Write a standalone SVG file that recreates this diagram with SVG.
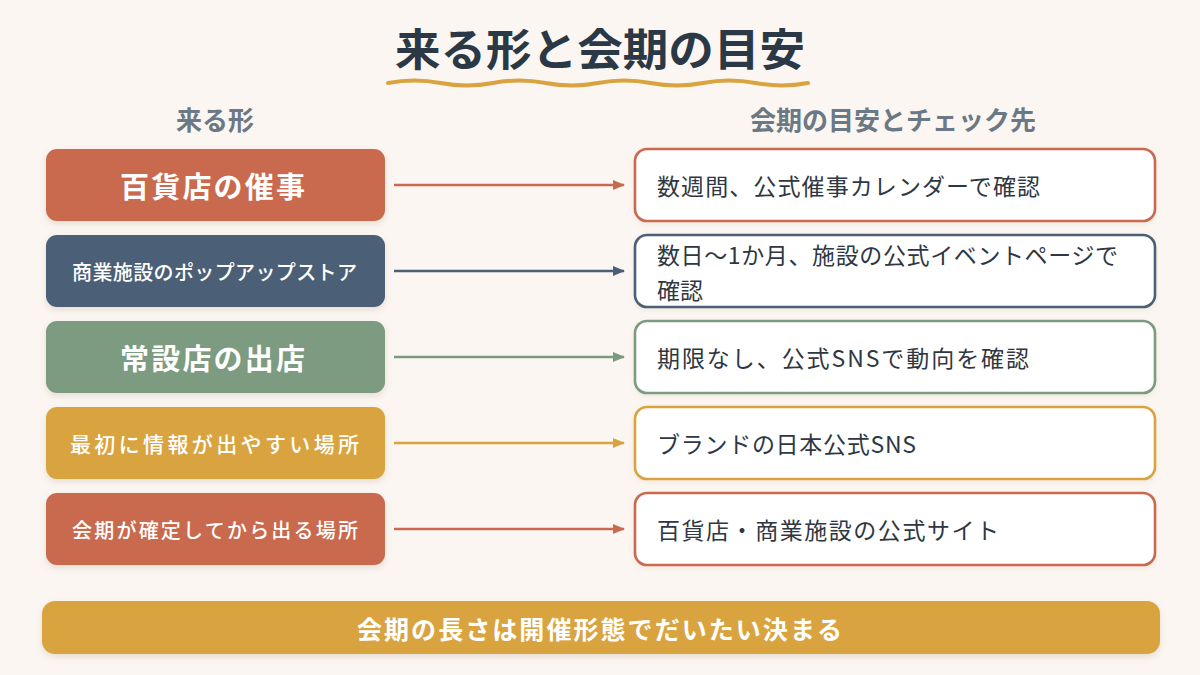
<svg xmlns="http://www.w3.org/2000/svg" width="1200" height="675" viewBox="0 0 1200 675">
<defs>
<filter id="sh" x="-10%" y="-20%" width="120%" height="150%">
<feDropShadow dx="0" dy="3" stdDeviation="3" flood-color="#8a6a50" flood-opacity="0.18"/>
</filter>
<filter id="sh2" x="-10%" y="-20%" width="120%" height="150%">
<feDropShadow dx="0" dy="2" stdDeviation="2.5" flood-color="#8a6a50" flood-opacity="0.10"/>
</filter>
<marker id="mR" viewBox="0 0 12 10" refX="11" refY="5" markerWidth="12" markerHeight="10" markerUnits="userSpaceOnUse" orient="auto"><path d="M0,0 L12,5 L0,10 Z" fill="#C96A50"/></marker>
<marker id="mN" viewBox="0 0 12 10" refX="11" refY="5" markerWidth="12" markerHeight="10" markerUnits="userSpaceOnUse" orient="auto"><path d="M0,0 L12,5 L0,10 Z" fill="#4B5F76"/></marker>
<marker id="mG" viewBox="0 0 12 10" refX="11" refY="5" markerWidth="12" markerHeight="10" markerUnits="userSpaceOnUse" orient="auto"><path d="M0,0 L12,5 L0,10 Z" fill="#7B9B80"/></marker>
<marker id="mY" viewBox="0 0 12 10" refX="11" refY="5" markerWidth="12" markerHeight="10" markerUnits="userSpaceOnUse" orient="auto"><path d="M0,0 L12,5 L0,10 Z" fill="#D9A440"/></marker>
</defs>
<style>
text{font-family:"Noto Sans CJK JP","Noto Sans",sans-serif;}
.title{font-size:44px;font-weight:700;fill:#2B3846;}
.hdr{font-size:26px;font-weight:700;fill:#6B7886;}
.lb{fill-opacity:1;filter:url(#sh);}
.lt{fill:#ffffff;dominant-baseline:central;text-anchor:start;}
.big{font-size:29px;font-weight:700;}
.sm{font-size:20px;font-weight:500;}
.rb{fill:#ffffff;stroke-width:2.6;filter:url(#sh2);}
.rt{font-size:23px;fill:#2E3742;dominant-baseline:central;}
.ar{stroke-width:2.5;fill:none;}
.red{fill:#C96A50;}.navy{fill:#4B5F76;}.green{fill:#7B9B80;}.gold{fill:#D9A440;}
</style>
<rect width="1200" height="675" fill="#FBF6F1"/>

<g id="title">
<text class="title" x="395" y="66" textLength="410" lengthAdjust="spacingAndGlyphs">来る形と会期の目安</text>
<path d="M388,83 q26.25,-5 52.5,0 t52.5,0 t52.5,0 t52.5,0 t52.5,0 t52.5,0 t52.5,0 t52.5,0" fill="none" stroke="#D9A440" stroke-width="4" stroke-linecap="round"/>
</g>

<g id="headers">
<text class="hdr" x="215" y="130" text-anchor="middle">来る形</text>
<text class="hdr" x="893" y="130" text-anchor="middle">会期の目安とチェック先</text>
</g>

<g id="left1"><rect class="lb red" x="46" y="149" width="339" height="72" rx="11"/><text class="lt big" x="120" y="185" textLength="185">百貨店の催事</text></g>
<g id="left2"><rect class="lb navy" x="46" y="235" width="339" height="72" rx="11"/><text class="lt sm" x="72" y="271" textLength="285">商業施設のポップアップストア</text></g>
<g id="left3"><rect class="lb green" x="46" y="321" width="339" height="72" rx="11"/><text class="lt big" x="120" y="357" textLength="185">常設店の出店</text></g>
<g id="left4"><rect class="lb gold" x="46" y="407" width="339" height="72" rx="11"/><text class="lt sm" x="70" y="443" textLength="289" style="font-size:21px">最初に情報が出やすい場所</text></g>
<g id="left5"><rect class="lb red" x="46" y="493" width="339" height="72" rx="11"/><text class="lt sm" x="72" y="529" textLength="286">会期が確定してから出る場所</text></g>

<g id="right1"><rect class="rb" x="635" y="149" width="520" height="72" rx="12" stroke="#C96A50"/><text class="rt" x="657" y="185" textLength="383">数週間、公式催事カレンダーで確認</text></g>
<g id="right2"><rect class="rb" x="635" y="235" width="520" height="72" rx="12" stroke="#4B5F76"/><text class="rt" x="657" y="254" textLength="461">数日〜1か月、施設の公式イベントページで</text><text class="rt" x="657" y="289">確認</text></g>
<g id="right3"><rect class="rb" x="635" y="321" width="520" height="72" rx="12" stroke="#7B9B80"/><text class="rt" x="657" y="357" textLength="372">期限なし、公式SNSで動向を確認</text></g>
<g id="right4"><rect class="rb" x="635" y="407" width="520" height="72" rx="12" stroke="#D9A440"/><text class="rt" x="657" y="443" textLength="259">ブランドの日本公式SNS</text></g>
<g id="right5"><rect class="rb" x="635" y="493" width="520" height="72" rx="12" stroke="#C96A50"/><text class="rt" x="657" y="529" textLength="342">百貨店・商業施設の公式サイト</text></g>

<g id="connectors">
<line class="ar" x1="394" y1="185" x2="624" y2="185" stroke="#C96A50" marker-end="url(#mR)"/>
<line class="ar" x1="394" y1="271" x2="624" y2="271" stroke="#4B5F76" marker-end="url(#mN)"/>
<line class="ar" x1="394" y1="357" x2="624" y2="357" stroke="#7B9B80" marker-end="url(#mG)"/>
<line class="ar" x1="394" y1="443" x2="624" y2="443" stroke="#D9A440" marker-end="url(#mY)"/>
<line class="ar" x1="394" y1="529" x2="624" y2="529" stroke="#C96A50" marker-end="url(#mR)"/>
</g>

<g id="summary">
<rect x="42" y="601" width="1118" height="53" rx="13" fill="#D9A440" filter="url(#sh)"/>
<text x="357" y="627.5" style="font-size:25px;font-weight:700;fill:#ffffff;dominant-baseline:central" textLength="485">会期の長さは開催形態でだいたい決まる</text>
</g>
</svg>
